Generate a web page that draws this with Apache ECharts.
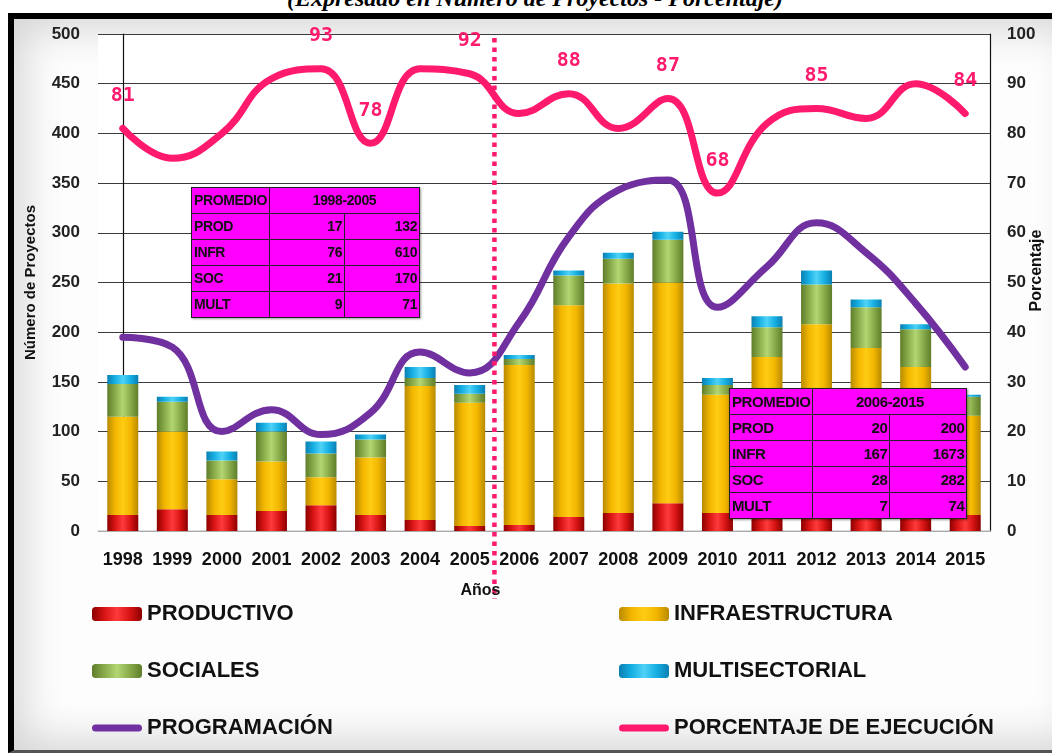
<!DOCTYPE html>
<html>
<head>
<meta charset="utf-8">
<script src="https://cdn.jsdelivr.net/npm/echarts@6/dist/echarts.min.js"></script>
<style>
  body { margin: 0; width: 1052px; height: 753px; overflow: hidden; background: #fff; position: relative; }
  #title { position: absolute; left: 0; width: 1070px; top: -15px; text-align: center; white-space: nowrap;
    font: italic bold 24px 'Liberation Serif', serif; color: #000; }
  #frame { position: absolute; left: 8px; top: 13px; width: 1070px; height: 731px;
    border: 6px solid #000; border-right: none; border-bottom: 3px solid #555;
    background: #fdfdfd; box-shadow: inset 0 0 40px 10px rgba(0,0,0,0.16); }
  #chart { position: absolute; left: 0; top: 0; width: 1052px; height: 753px; }
  table.prom { position: absolute; border-collapse: collapse; background: #ff00ff;
    font-family: 'Liberation Sans', sans-serif; font-weight: bold; color: #111; letter-spacing: -0.4px;
    box-shadow: 1px 1px 2px rgba(0,0,0,0.4); }
  table.prom td { border: 1.5px solid #222; padding: 0 2px; height: 25px; line-height: 25px; }
  table.prom td.n { text-align: right; }
  table.prom td.h { text-align: center; }
  #t1 { left: 191px; top: 187px; font-size: 14px; }
  #t1 td.c0 { width: 70px; } #t1 td.n { width: 70px; }
  #t2 { left: 729px; top: 388px; font-size: 15px; }
  #t2 td.c0 { width: 72px; } #t2 td.n { width: 72px; }
</style>
</head>
<body>
<div id="title">(Expresado en Número de Proyectos - Porcentaje)</div>
<div id="frame"></div>
<div id="chart"></div>
<table class="prom" id="t1"></table>
<table class="prom" id="t2"></table>
<script>
// datos
const years = ['1998', '1999', '2000', '2001', '2002', '2003', '2004', '2005', '2006',
  '2007', '2008', '2009', '2010', '2011', '2012', '2013', '2014', '2015']
const productivo = [16, 22, 16, 20, 26, 16, 11, 5, 6, 14, 18, 28, 18, 22, 26, 26, 26, 16]
const infraestructura = [99, 78, 36, 50, 28, 58, 135, 124, 161, 213, 231, 222, 119, 153, 182, 158, 139, 100]
const sociales = [33, 30, 19, 30, 24, 18, 8, 9, 6, 30, 25, 43, 10, 30, 40, 41, 38, 19]
const multisectorial = [9, 5, 9, 9, 12, 5, 11, 9, 4, 5, 6, 8, 7, 11, 14, 8, 5, 2]
const programacion = [195, 185, 100, 122, 97, 119, 180, 159, 210, 296, 343, 353, 225, 266, 310, 280, 229, 165]
const porcentaje = [81, 75, 80, 91, 93, 78, 93, 92, 84, 88, 81, 87, 68, 82, 85, 83, 90, 84]
const labeledYears = ['1998', '2002', '2003', '2005', '2007', '2009', '2010', '2012', '2015']
const leftTicks = { min: 0, max: 500, interval: 50 }
const rightTicks = { min: 0, max: 100, interval: 10 }

// tablas de promedios
const tableRows = ['PROD', 'INFR', 'SOC', 'MULT']
const prom1 = { periodo: '1998-2005', promedio: [17, 76, 21, 9], total: [132, 610, 170, 71] }
const prom2 = { periodo: '2006-2015', promedio: [20, 167, 28, 7], total: [200, 1673, 282, 74] }

function fillTable(id, p) {
  let html = '<tr><td class="c0">PROMEDIO</td><td class="h" colspan="2">' + p.periodo + '</td></tr>'
  tableRows.forEach((r, i) => {
    html += '<tr><td class="c0">' + r + '</td><td class="n">' + p.promedio[i] + '</td><td class="n">' + p.total[i] + '</td></tr>'
  })
  document.getElementById(id).innerHTML = html
}
fillTable('t1', prom1)
fillTable('t2', prom2)

const SANS = "'Liberation Sans', sans-serif"
const LINE_ICON = 'path://M3.5,0 L46.5,0 A3.5,3.5 0 0 1 46.5,7 L3.5,7 A3.5,3.5 0 0 1 3.5,0 Z'

// degradado horizontal tipo bisel
const bevel = (edge, mid, light) => new echarts.graphic.LinearGradient(0, 0, 1, 0, [
  { offset: 0, color: edge },
  { offset: 0.25, color: mid },
  { offset: 0.5, color: light },
  { offset: 0.75, color: mid },
  { offset: 1, color: edge }
])

const barSeries = (name, data, color) => ({
  name: name,
  type: 'bar',
  stack: 'total',
  barWidth: 31,
  data: data,
  itemStyle: { color: color },
  z: 2
})

const legendText = { color: '#111', fontFamily: SANS, fontWeight: 'bold', fontSize: 22 }

const chart = echarts.init(document.getElementById('chart'))

const option = {
  animation: false,
  grid: { left: 98, right: 62, top: 34, bottom: 222, show: true, backgroundColor: '#fff', borderWidth: 0, outerBoundsMode: 'none' },
  xAxis: [{
    type: 'category',
    data: years,
    axisLine: { lineStyle: { color: '#d0d0d0', width: 1.5 } },
    axisTick: { show: false },
    axisLabel: { color: '#111', fontFamily: SANS, fontWeight: 'bold', fontSize: 18, margin: 20, interval: 0 }
  }, {
    type: 'value', min: -0.5, max: 17.5, show: false
  }],
  yAxis: [{
    type: 'value',
    ...leftTicks,
    name: 'Número de Proyectos',
    nameLocation: 'middle',
    nameGap: 60,
    nameTextStyle: { color: '#111', fontFamily: SANS, fontWeight: 'bold', fontSize: 15 },
    axisLine: { show: true, lineStyle: { color: '#111', width: 1.2 } },
    axisTick: { show: false },
    axisLabel: { color: '#222', fontFamily: SANS, fontWeight: 'bold', fontSize: 17, margin: 18 },
    splitLine: { lineStyle: { color: '#3c3c3c', width: 1.2 } }
  }, {
    type: 'value',
    ...rightTicks,
    axisLine: { show: true, lineStyle: { color: '#111', width: 1.2 } },
    axisTick: { show: false },
    axisLabel: { color: '#222', fontFamily: SANS, fontWeight: 'bold', fontSize: 17, margin: 17 },
    splitLine: { show: false }
  }],
  legend: [{
    orient: 'vertical',
    left: 92, top: 603,
    itemWidth: 50, itemHeight: 14, itemGap: 35,
    padding: 0,
    textStyle: legendText,
    data: ['PRODUCTIVO', 'SOCIALES', { name: 'PROGRAMACIÓN', icon: LINE_ICON }]
  }, {
    orient: 'vertical',
    left: 619, top: 603,
    itemWidth: 50, itemHeight: 14, itemGap: 35,
    padding: 0,
    textStyle: legendText,
    data: ['INFRAESTRUCTURA', 'MULTISECTORIAL', { name: 'PORCENTAJE DE EJECUCIÓN', icon: LINE_ICON }]
  }],
  series: [
    barSeries('PRODUCTIVO', productivo, bevel('#8c0000', '#d81414', '#ff3a3a')),
    barSeries('INFRAESTRUCTURA', infraestructura, bevel('#b88a00', '#f2b600', '#ffcc14')),
    barSeries('SOCIALES', sociales, bevel('#5f7d2a', '#89ab4a', '#b3d673')),
    barSeries('MULTISECTORIAL', multisectorial, bevel('#0a7fb2', '#16afe3', '#4fd2f7')),
    {
      name: 'PROGRAMACIÓN',
      type: 'line',
      smooth: 0.45,
      symbol: 'none',
      data: programacion,
      lineStyle: { color: '#7030a0', width: 7, cap: 'round' },
      itemStyle: { color: '#7030a0' },
      z: 3
    },
    {
      name: 'PORCENTAJE DE EJECUCIÓN',
      type: 'line',
      yAxisIndex: 1,
      smooth: 0.45,
      symbol: 'circle',
      symbolSize: 1,
      showSymbol: true,
      data: porcentaje.map((v, i) => ({
        value: v,
        label: { show: labeledYears.includes(years[i]) }
      })),
      lineStyle: { color: '#ff1a6e', width: 7, cap: 'round' },
      itemStyle: { color: '#ff1a6e' },
      label: {
        position: 'top', distance: 22,
        color: '#ff1a6e', fontFamily: "'DejaVu Sans Mono', monospace", fontWeight: 'bold', fontSize: 20
      },
      z: 4
    }
  ]
}
chart.setOption(option)

// línea divisoria entre 2005 y 2006, nombres de ejes
const divX = chart.convertToPixel({ xAxisIndex: 1 }, 7.5)
const rightX = chart.convertToPixel({ xAxisIndex: 1 }, 17.5)
const topY = chart.convertToPixel({ yAxisIndex: 0 }, leftTicks.max)
const baseY = chart.convertToPixel({ yAxisIndex: 0 }, leftTicks.min)
chart.setOption({
  graphic: [{
    type: 'line',
    z: 10,
    shape: { x1: divX, y1: topY + 4, x2: divX, y2: baseY + 68 },
    style: { stroke: '#ff1a6e', lineWidth: 4.5, lineDash: [4.5, 5] }
  }, {
    type: 'text',
    z: 10,
    x: divX - 14, y: baseY + 52,
    style: { text: 'Años', fill: '#111', font: "bold 16px 'Liberation Sans', sans-serif", align: 'center' }
  }, {
    type: 'text',
    z: 10,
    x: rightX + 47, y: (topY + baseY) / 2 - 12,
    rotation: Math.PI / 2,
    style: { text: 'Porcentaje', fill: '#111', font: "bold 16px 'Liberation Sans', sans-serif", align: 'center', verticalAlign: 'middle' }
  }]
})
</script>
</body>
</html>
